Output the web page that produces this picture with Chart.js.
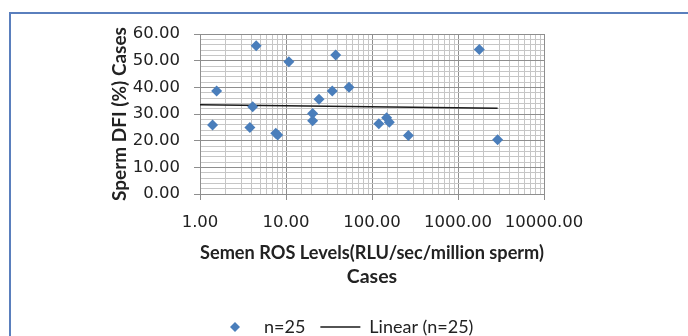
<!DOCTYPE html>
<html>
<head>
<meta charset="utf-8">
<script src="https://cdn.jsdelivr.net/npm/chart.js@4/dist/chart.umd.min.js"></script>
<style>
    html, body { margin: 0; padding: 0; background: #fff; overflow: hidden; }
    #wrap { position: relative; width: 688px; height: 336px; overflow: hidden; }
    #frame {
        position: absolute; left: 9px; top: 12px; width: 720px; height: 400px;
        border-left: 2px solid #5a7fbd; border-top: 2px solid #5a7fbd;
    }
    #c { position: absolute; left: 0; top: 0; }
</style>
</head>
<body>
<div id="wrap">
    <div id="frame"></div>
    <canvas id="c" width="688" height="346"></canvas>
</div>
<script>
// Dados (eixo X em escala log)
const rosLevels = [1.40, 1.56, 3.8, 4.1, 4.5, 7.6, 8.0, 10.8, 20.4, 20.4, 24.2, 34.5, 37.8, 54, 120, 148, 159, 265, 1770, 2890];
const dfiValues = [25.9, 38.6, 24.9, 32.7, 55.6, 22.8, 22.1, 49.6, 30.2, 27.5, 35.5, 38.6, 52.1, 40.0, 26.3, 28.6, 26.9, 21.9, 54.2, 20.3];

// Linha de tendência (Linear)
const trendX = [1, 2890];
const trendY = [33.5, 32.2];

// Ticks
const yTicks = [0, 10, 20, 30, 40, 50, 60];
const xTicks = [1, 10, 100, 1000, 10000];

const COLORS = {
    point: '#4a7ebb',
    trend: '#1a1a1a',
    gridMajor: '#8e8e8e',
    gridMinor: '#c6c6c6',
    text: '#222222'
};

const TEXT_FONT = "Lato, 'Open Sans', sans-serif";
const TICK_FONT = "'DejaVu Sans', Verdana, sans-serif";

const isDecade = v => Math.abs(Math.log10(v) - Math.round(Math.log10(v))) < 1e-9;

// Ícone de losango para a legenda (desenhado pelo próprio Chart.js)
function makeDiamondIcon() {
    const icon = document.createElement('canvas');
    icon.width = 12;
    icon.height = 12;
    const ictx = icon.getContext('2d');
    ictx.fillStyle = COLORS.point;
    Chart.helpers.drawPoint(ictx, { pointStyle: 'rectRot', radius: 5, borderWidth: 0, rotation: 0 }, 6, 6);
    return icon;
}
const diamondIcon = makeDiamondIcon();

new Chart(document.getElementById('c'), {
    type: 'scatter',
    data: {
        datasets: [
            {
                label: 'n=25',
                data: rosLevels.map((x, i) => ({ x: x, y: dfiValues[i] })),
                pointStyle: 'rectRot',
                pointRadius: 5.5,
                pointHoverRadius: 5.5,
                backgroundColor: COLORS.point,
                borderColor: COLORS.point,
                borderWidth: 0
            },
            {
                label: 'Linear (n=25)',
                type: 'line',
                data: trendX.map((x, i) => ({ x: x, y: trendY[i] })),
                borderColor: COLORS.trend,
                backgroundColor: COLORS.trend,
                borderWidth: 1.5,
                pointRadius: 0,
                pointStyle: 'line',
                fill: false,
                tension: 0
            }
        ]
    },
    options: {
        responsive: false,
        animation: false,
        layout: { padding: { top: 34, right: 144, left: 0, bottom: 0 } },
        plugins: {
            tooltip: { enabled: false },
            legend: {
                position: 'bottom',
                align: 'start',
                fullSize: false,
                labels: {
                    usePointStyle: true,
                    boxHeight: 7,
                    pointStyleWidth: 40,
                    padding: 15,
                    color: COLORS.text,
                    font: { family: TEXT_FONT, size: 18 },
                    generateLabels: chart => {
                        const items = Chart.defaults.plugins.legend.labels.generateLabels(chart);
                        items[0].pointStyle = diamondIcon;
                        return items;
                    }
                }
            }
        },
        scales: {
            x: {
                type: 'logarithmic',
                min: 1,
                max: 10000,
                afterFit: s => { s.height = 109; },
                border: { color: COLORS.gridMajor, width: 1 },
                grid: {
                    color: c => (c.tick && isDecade(c.tick.value)) ? COLORS.gridMajor : COLORS.gridMinor,
                    tickColor: c => (c.tick && isDecade(c.tick.value)) ? COLORS.gridMajor : 'rgba(0,0,0,0)',
                    tickLength: 6
                },
                ticks: {
                    autoSkip: false,
                    maxRotation: 0,
                    padding: 13,
                    color: COLORS.text,
                    font: { family: TICK_FONT, size: 16.5 },
                    callback: v => isDecade(v) && xTicks.includes(Math.round(v)) ? v.toFixed(2) : ''
                },
                title: {
                    display: true,
                    text: ['Semen ROS Levels(RLU/sec/million sperm)', 'Cases'],
                    color: COLORS.text,
                    font: { family: TEXT_FONT, size: 19.5, weight: 'bold', lineHeight: 1.25 },
                    padding: { top: 0, bottom: 14 }
                }
            },
            y: {
                min: 0,
                max: 60,
                afterFit: s => { s.width = 200; },
                border: { color: COLORS.gridMajor, width: 1 },
                grid: {
                    color: c => (c.tick && c.tick.value % 10 === 0) ? COLORS.gridMajor : COLORS.gridMinor,
                    tickColor: c => (c.tick && c.tick.value % 10 === 0) ? COLORS.gridMajor : 'rgba(0,0,0,0)',
                    tickLength: 6
                },
                ticks: {
                    stepSize: 2,
                    autoSkip: false,
                    padding: 14,
                    color: COLORS.text,
                    font: { family: TICK_FONT, size: 16.5 },
                    callback: v => yTicks.includes(v) ? v.toFixed(2) : ''
                },
                title: {
                    display: true,
                    text: 'Sperm DFI (%) Cases',
                    color: COLORS.text,
                    font: { family: TEXT_FONT, size: 19, weight: 'bold', lineHeight: 1.25 },
                    padding: { top: 108, bottom: 0 }
                }
            }
        }
    }
});
</script>
</body>
</html>
